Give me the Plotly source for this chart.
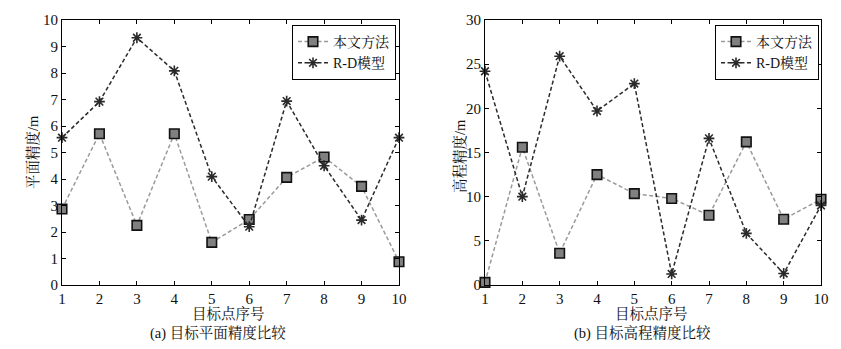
import plotly.graph_objects as go

points = list(range(1, 11))
plane_ours = [2.87, 5.71, 2.25, 5.71, 1.61, 2.47, 4.06, 4.83, 3.72, 0.88]
plane_rd = [5.56, 6.92, 9.33, 8.08, 4.09, 2.20, 6.94, 4.50, 2.45, 5.56]
height_ours = [0.3, 15.6, 3.6, 12.5, 10.35, 9.8, 7.9, 16.2, 7.45, 9.7]
height_rd = [24.2, 10.0, 25.9, 19.7, 22.8, 1.25, 16.6, 5.85, 1.3, 9.0]
x_ticks = list(range(1, 11))
name_ours = "本文方法"
name_rd = "R-D模型"

FONT = "Liberation Serif, Times New Roman, Noto Serif CJK SC, Noto Sans CJK SC, serif"
W, H = 841, 349
OFF = 8  # page body margin offset


def px(x):
    return (x - OFF) / W


def py(y):
    return (H - (y - OFF)) / H


fig = go.Figure()


def add_pair(xa, ya, ours, rd, legend):
    fig.add_trace(go.Scatter(
        x=points, y=ours, name=name_ours, xaxis=xa, yaxis=ya, legend=legend,
        mode="lines+markers",
        line=dict(color="#9a9a9a", width=1.5, dash="4px,2.5px"),
        marker=dict(symbol="square", size=9.5, color="#808080",
                    line=dict(color="#111111", width=1.6)),
        cliponaxis=False))
    fig.add_trace(go.Scatter(
        x=points, y=rd, name=name_rd, xaxis=xa, yaxis=ya, legend=legend,
        mode="lines+markers",
        line=dict(color="#2a2a2a", width=1.5, dash="4px,2.5px"),
        marker=dict(symbol="asterisk-open", size=9,
                    line=dict(color="#555555", width=1.6)),
        cliponaxis=False))


add_pair("x", "y", plane_ours, plane_rd, "legend")
add_pair("x2", "y2", height_ours, height_rd, "legend2")

ydom = [py(285), py(20)]
axis_common = dict(showline=True, linecolor="black", linewidth=1, mirror="ticks",
                   ticks="inside", ticklen=4, tickcolor="black", showgrid=False,
                   zeroline=False, automargin=False,
                   tickfont=dict(family=FONT, size=15, color="#111"))

legend_common = dict(yanchor="top", xanchor="right", bgcolor="white",
                     bordercolor="black", borderwidth=1,
                     font=dict(family=FONT, size=14, color="#111"),
                     tracegroupgap=0, itemwidth=30)

fig.update_layout(
    template="none",
    width=W, height=H, autosize=False,
    margin=dict(l=0, r=0, t=0, b=0, pad=0),
    plot_bgcolor="white", paper_bgcolor="white",
    font=dict(family=FONT, color="#111"),
    xaxis=dict(domain=[px(62), px(399)], range=[1, 10], tickvals=x_ticks, anchor="y",
               **axis_common),
    yaxis=dict(domain=ydom, range=[0, 10], dtick=1, anchor="x", **axis_common),
    xaxis2=dict(domain=[px(485), px(821)], range=[1, 10], tickvals=x_ticks, anchor="y2",
                **axis_common),
    yaxis2=dict(domain=ydom, range=[0, 30], dtick=5, anchor="x2", **axis_common),
    legend=dict(x=px(396), y=py(25), **legend_common),
    legend2=dict(x=px(819), y=py(25), **legend_common),
)


def ann(text, x, y, angle=0, size=14.5):
    fig.add_annotation(text=text, x=px(x), y=py(y), xref="paper", yref="paper",
                       showarrow=False, textangle=angle, xanchor="center", yanchor="middle",
                       font=dict(family=FONT, size=size, color="#111"))


ann("平面精度/m", 33, 152, angle=-90)
ann("高程精度/m", 459, 156, angle=-90)
ann("目标点序号", 228, 313)
ann("目标点序号", 651, 313)
ann("(a) 目标平面精度比较", 218, 333)
ann("(b) 目标高程精度比较", 642, 333)

fig.write_html("out.html")
